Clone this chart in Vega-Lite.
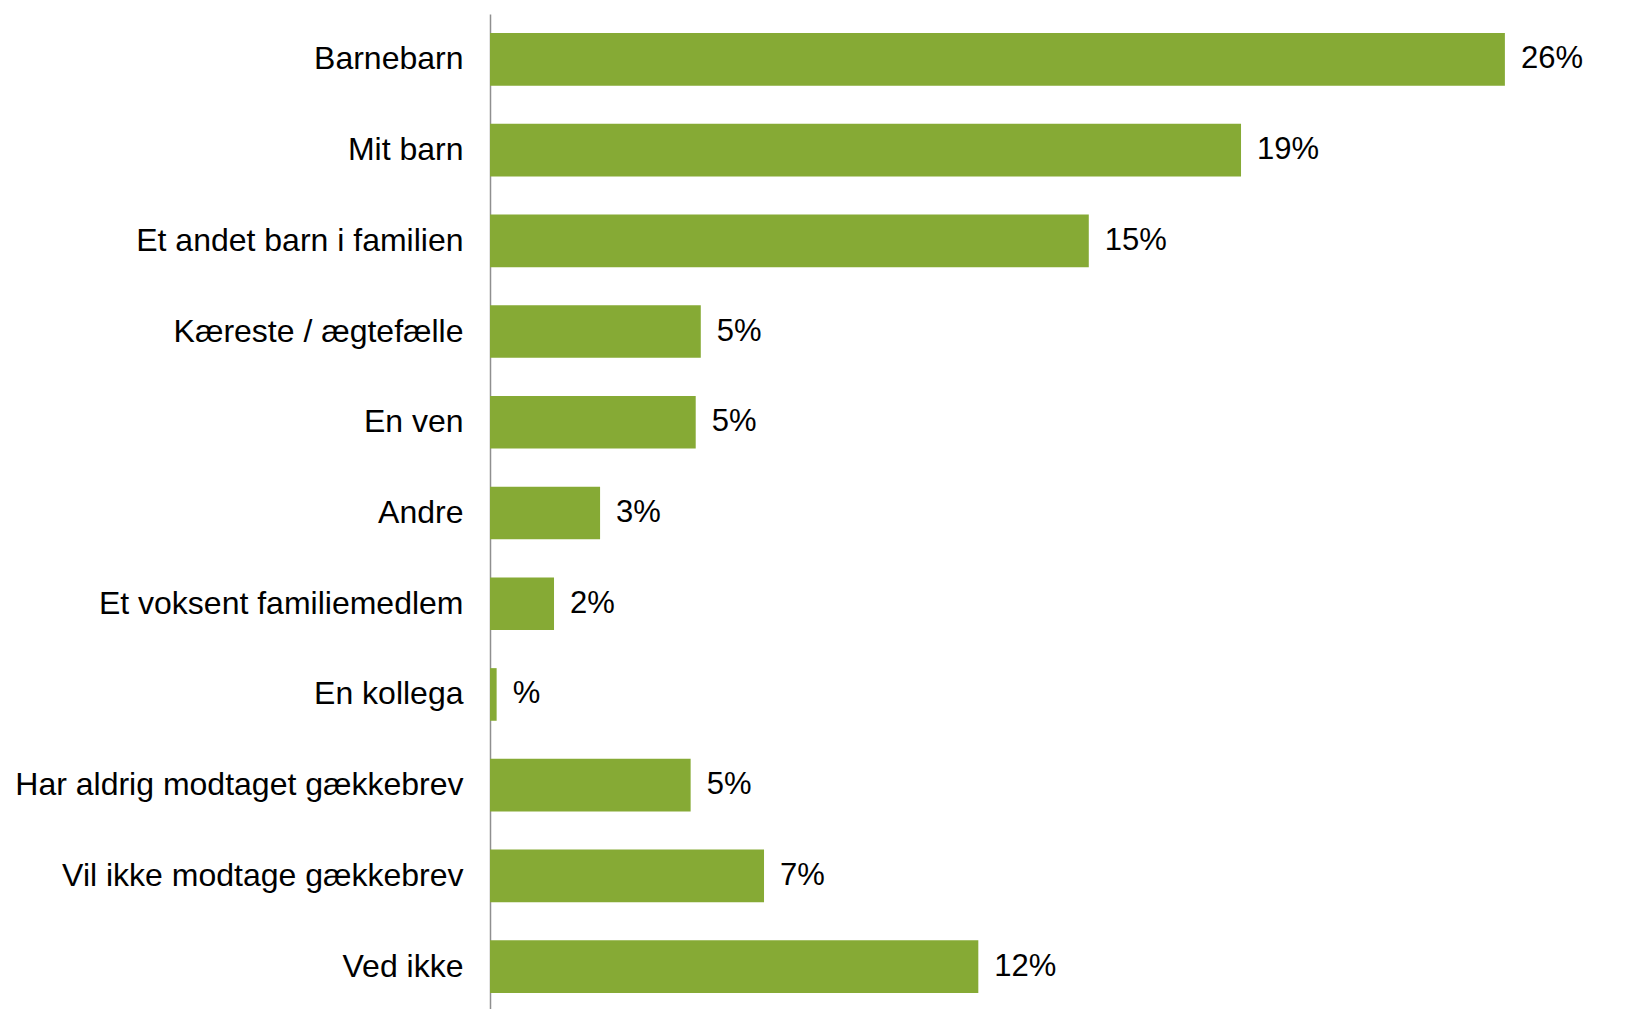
{
  "$schema": "https://vega.github.io/schema/vega-lite/v6.json",
  "autosize": {"type": "none"},
  "padding": {"left": 490, "top": 14, "right": 26, "bottom": 0},
  "width": 1132,
  "height": 998,
  "background": "white",
  "config": {"view": {"stroke": null}},
  "data": {
    "values": [
      {"category": "Barnebarn", "value": 26.0, "label": "26%"},
      {"category": "Mit barn", "value": 19.24, "label": "19%"},
      {"category": "Et andet barn i familien", "value": 15.34, "label": "15%"},
      {"category": "Kæreste / ægtefælle", "value": 5.4, "label": "5%"},
      {"category": "En ven", "value": 5.27, "label": "5%"},
      {"category": "Andre", "value": 2.82, "label": "3%"},
      {"category": "Et voksent familiemedlem", "value": 1.64, "label": "2%"},
      {"category": "En kollega", "value": 0.17, "label": "%"},
      {"category": "Har aldrig modtaget gækkebrev", "value": 5.14, "label": "5%"},
      {"category": "Vil ikke modtage gækkebrev", "value": 7.02, "label": "7%"},
      {"category": "Ved ikke", "value": 12.51, "label": "12%"}
    ]
  },
  "encoding": {
    "y": {
      "field": "category",
      "type": "nominal",
      "sort": null,
      "scale": {"paddingInner": 0.42, "paddingOuter": 0.21},
      "axis": {
        "title": null,
        "ticks": false,
        "labelPadding": 27,
        "labelFont": "Liberation Sans",
        "labelFontSize": 32,
        "labelColor": "#000000",
        "labelLimit": 600,
        "domainColor": "#8f8f8f",
        "domainWidth": 1.5,
        "grid": false
      }
    },
    "x": {
      "field": "value",
      "type": "quantitative",
      "scale": {"domain": [0, 29], "nice": false, "zero": true},
      "axis": null
    }
  },
  "layer": [
    {"mark": {"type": "bar", "color": "#86AA35"}},
    {
      "mark": {
        "type": "text",
        "align": "left",
        "baseline": "middle",
        "dx": 16,
        "font": "Liberation Sans",
        "fontSize": 31,
        "color": "#000000"
      },
      "encoding": {"text": {"field": "label"}}
    }
  ]
}
